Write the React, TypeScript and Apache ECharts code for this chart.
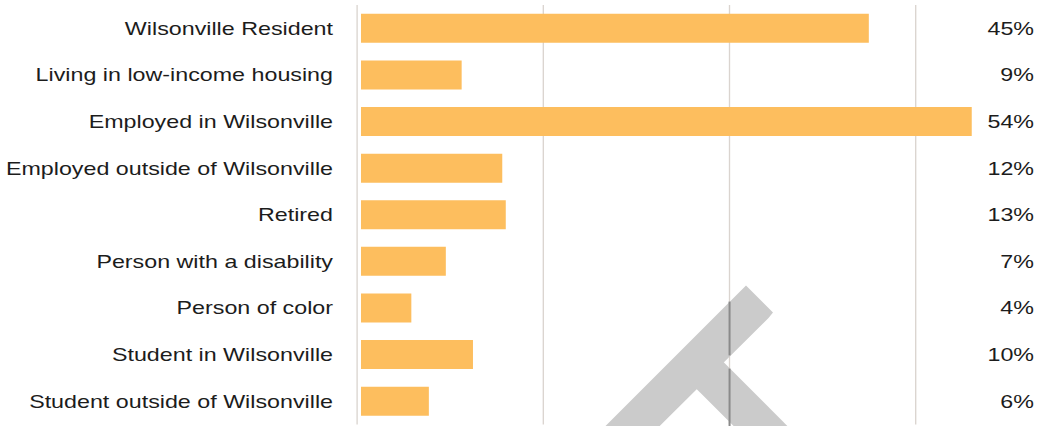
import React, { useEffect, useRef } from "react";
import * as echarts from "echarts";

// ---- data ----
const categories = [
  "Wilsonville Resident",
  "Living in low-income housing",
  "Employed in Wilsonville",
  "Employed outside of Wilsonville",
  "Retired",
  "Person with a disability",
  "Person of color",
  "Student in Wilsonville",
  "Student outside of Wilsonville",
];
const values = [44.9, 8.9, 54.0, 12.49, 12.8, 7.5, 4.45, 9.9, 6.0];
const percentLabels = ["45%", "9%", "54%", "12%", "13%", "7%", "4%", "10%", "6%"];

// ---- layout / style ----
const S = 1.33; // horizontal stretch of the source picture
const W = 1042 / S;
const H = 426;
const GRID_INTERVAL = 16.47;
const AXIS_MAX = 60;
const BAR_OFFSET = 0.354;
const FONT = "'Liberation Sans', Arial, sans-serif";
const TEXT_COLOR = "#1c1c1c";
const BAR_COLOR = "#FDBE5E";
const GRID_COLOR = "#dad4cf";

const X = (x: number) => x / S;

export default function App() {
  const ref = useRef<HTMLDivElement>(null);
  useEffect(() => {
    if (!ref.current) return;
    const chart = echarts.init(ref.current, undefined, { renderer: "svg" });
    const gridLeft = X(357);
    const gridWidth = X(1035.6) - gridLeft;
    chart.setOption({
      animation: false,
      grid: { left: gridLeft, width: gridWidth, top: 5, bottom: 1.5, containLabel: false },
      xAxis: [
        { type: "value", min: -BAR_OFFSET, max: AXIS_MAX - BAR_OFFSET, show: false },
        {
          type: "value",
          min: 0,
          max: AXIS_MAX,
          interval: GRID_INTERVAL,
          axisLabel: { show: false },
          axisLine: { show: false },
          axisTick: { show: false },
          splitLine: {
            show: true,
            showMinLine: true,
            showMaxLine: false,
            lineStyle: { color: GRID_COLOR, width: 1 },
          },
        },
      ],
      yAxis: [
        {
          type: "category",
          data: categories,
          inverse: true,
          axisLine: { show: false, onZero: false },
          axisTick: { show: false },
          splitLine: { show: false },
          axisLabel: {
            margin: gridLeft - X(333),
            fontSize: 17.5,
            color: TEXT_COLOR,
            fontFamily: FONT,
            padding: [3, 0, 0, 0],
          },
        },
        {
          type: "category",
          data: percentLabels,
          inverse: true,
          position: "right",
          axisLine: { show: false, onZero: false },
          axisTick: { show: false },
          splitLine: { show: false },
          axisLabel: {
            align: "right",
            margin: -(X(1035.6) - X(1034)),
            fontSize: 17.5,
            color: TEXT_COLOR,
            fontFamily: FONT,
            padding: [3, 0, 0, 0],
          },
        },
      ],
      series: [
        {
          type: "bar",
          xAxisIndex: 0,
          yAxisIndex: 0,
          data: values,
          barWidth: 29,
          silent: true,
          itemStyle: { color: BAR_COLOR },
        },
      ],
    });

    // decorative grey "T" watermark from the scanned source
    const gx = chart.convertToPixel({ xAxisIndex: 1 }, 2 * GRID_INTERVAL) as number;
    const pts = (arr: number[][]) => arr.map(([x, y]) => [X(x), y]);
    chart.setOption({
      graphic: [
        {
          type: "polygon",
          z: 1,
          silent: true,
          shape: { points: pts([[741, 290.5], [746, 285.6], [768, 307.5], [773, 312.4], [768.5, 318], [617.4, 468], [590.5, 441]]) },
          style: { fill: "#cbcbcb" },
        },
        {
          type: "polygon",
          z: 1,
          silent: true,
          shape: { points: pts([[710, 348.6], [802, 440.6], [775, 467.4], [683, 375.4]]) },
          style: { fill: "#cbcbcb" },
        },
        {
          type: "line",
          z: 2,
          silent: true,
          shape: { x1: gx, y1: 301.6, x2: gx, y2: 355.4 },
          style: { stroke: "#8a8a8a", lineWidth: 1.5 },
        },
        {
          type: "line",
          z: 2,
          silent: true,
          shape: { x1: gx, y1: 368.6, x2: gx, y2: 426 },
          style: { stroke: "#8a8a8a", lineWidth: 1.5 },
        },
      ],
    });
    return () => chart.dispose();
  }, []);
  return (
    <div
      ref={ref}
      style={{
        position: "fixed",
        left: 0,
        top: 0,
        width: W,
        height: H,
        transform: `scaleX(${S})`,
        transformOrigin: "0 0",
        background: "#ffffff",
      }}
    />
  );
}
